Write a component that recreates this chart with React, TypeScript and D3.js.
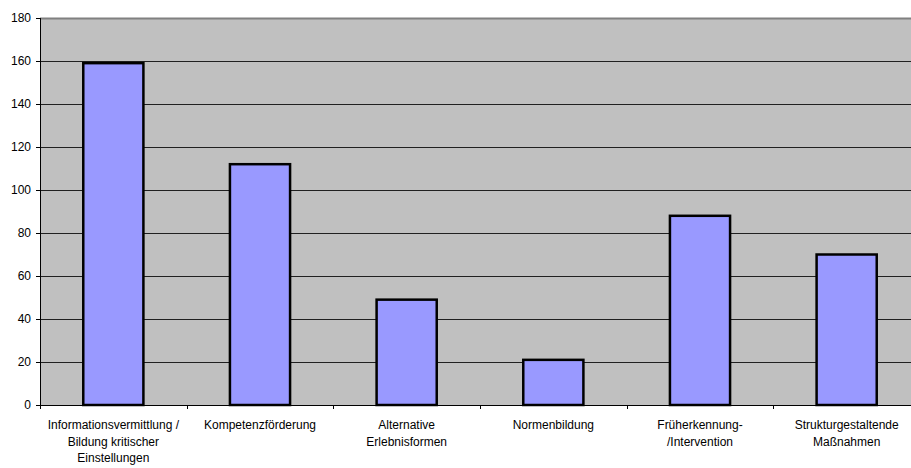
import React from "react";
import * as d3 from "d3";

const categories: string[] = [
  "Informationsvermittlung /\nBildung kritischer\nEinstellungen",
  "Kompetenzförderung",
  "Alternative\nErlebnisformen",
  "Normenbildung",
  "Früherkennung-\n/Intervention",
  "Strukturgestaltende\nMaßnahmen",
];
const values: number[] = [159, 112, 49, 21, 88, 70];
const yTicks: number[] = [0, 20, 40, 60, 80, 100, 120, 140, 160, 180];

const W = 911;
const H = 468;
const plot = { left: 40, top: 18, right: 920, bottom: 405 };
const font = "'Liberation Sans', Arial, sans-serif";

export default function App() {
  const x = d3
    .scaleBand<number>()
    .domain(d3.range(categories.length))
    .range([plot.left, plot.right])
    .paddingInner(0.59)
    .paddingOuter(0.295);
  const xCat = d3
    .scaleBand<number>()
    .domain(d3.range(categories.length))
    .range([plot.left, plot.right]);
  const y = d3.scaleLinear().domain([0, 180]).range([plot.bottom, plot.top]);

  return (
    <svg
      width={W}
      height={H}
      style={{ position: "absolute", left: 0, top: 0, background: "#fff" }}
      fontFamily={font}
    >
      <rect
        x={plot.left}
        y={plot.top}
        width={plot.right - plot.left}
        height={plot.bottom - plot.top}
        fill="#C0C0C0"
      />
      {yTicks
        .filter((t) => t > 0 && t < 180)
        .map((t) => (
          <line
            key={"g" + t}
            x1={plot.left}
            x2={plot.right}
            y1={Math.round(y(t)) + 0.5}
            y2={Math.round(y(t)) + 0.5}
            stroke="#202020"
            strokeWidth={1}
          />
        ))}
      <line
        x1={plot.left}
        x2={plot.right}
        y1={plot.top + 0.5}
        y2={plot.top + 0.5}
        stroke="#808080"
        strokeWidth={2}
      />
      {values.map((v, i) => (
        <rect
          key={"b" + i}
          x={x(i)!}
          y={y(v)}
          width={x.bandwidth()}
          height={plot.bottom - y(v)}
          fill="#9999FF"
          stroke="#000"
          strokeWidth={2.5}
        />
      ))}
      {/* axes */}
      <line
        x1={plot.left + 0.5}
        x2={plot.left + 0.5}
        y1={plot.top}
        y2={plot.bottom + 4}
        stroke="#000"
        strokeWidth={1}
      />
      <line
        x1={plot.left - 4}
        x2={plot.right}
        y1={plot.bottom + 0.5}
        y2={plot.bottom + 0.5}
        stroke="#000"
        strokeWidth={1}
      />
      {yTicks.map((t) => (
        <g key={"t" + t}>
          <line
            x1={plot.left - 4}
            x2={plot.left}
            y1={Math.round(y(t)) + 0.5}
            y2={Math.round(y(t)) + 0.5}
            stroke="#000"
          />
          <text
            x={31}
            y={y(t)}
            dy="0.35em"
            textAnchor="end"
            fontSize={12}
            fill="#000"
          >
            {t}
          </text>
        </g>
      ))}
      {categories.map((_, i) =>
        i === 0 ? null : (
          <line
            key={"ct" + i}
            x1={Math.round(xCat(i)!) + 0.5}
            x2={Math.round(xCat(i)!) + 0.5}
            y1={plot.bottom}
            y2={plot.bottom + 4}
            stroke="#000"
          />
        )
      )}
      {categories.map((c, i) => {
        const cx = xCat(i)! + xCat.bandwidth() / 2;
        return (
          <text
            key={"c" + i}
            x={cx}
            y={429}
            textAnchor="middle"
            fontSize={12}
            fill="#000"
          >
            {c.split("\n").map((line, j) => (
              <tspan key={j} x={cx} dy={j === 0 ? 0 : 16.5}>
                {line}
              </tspan>
            ))}
          </text>
        );
      })}
    </svg>
  );
}
